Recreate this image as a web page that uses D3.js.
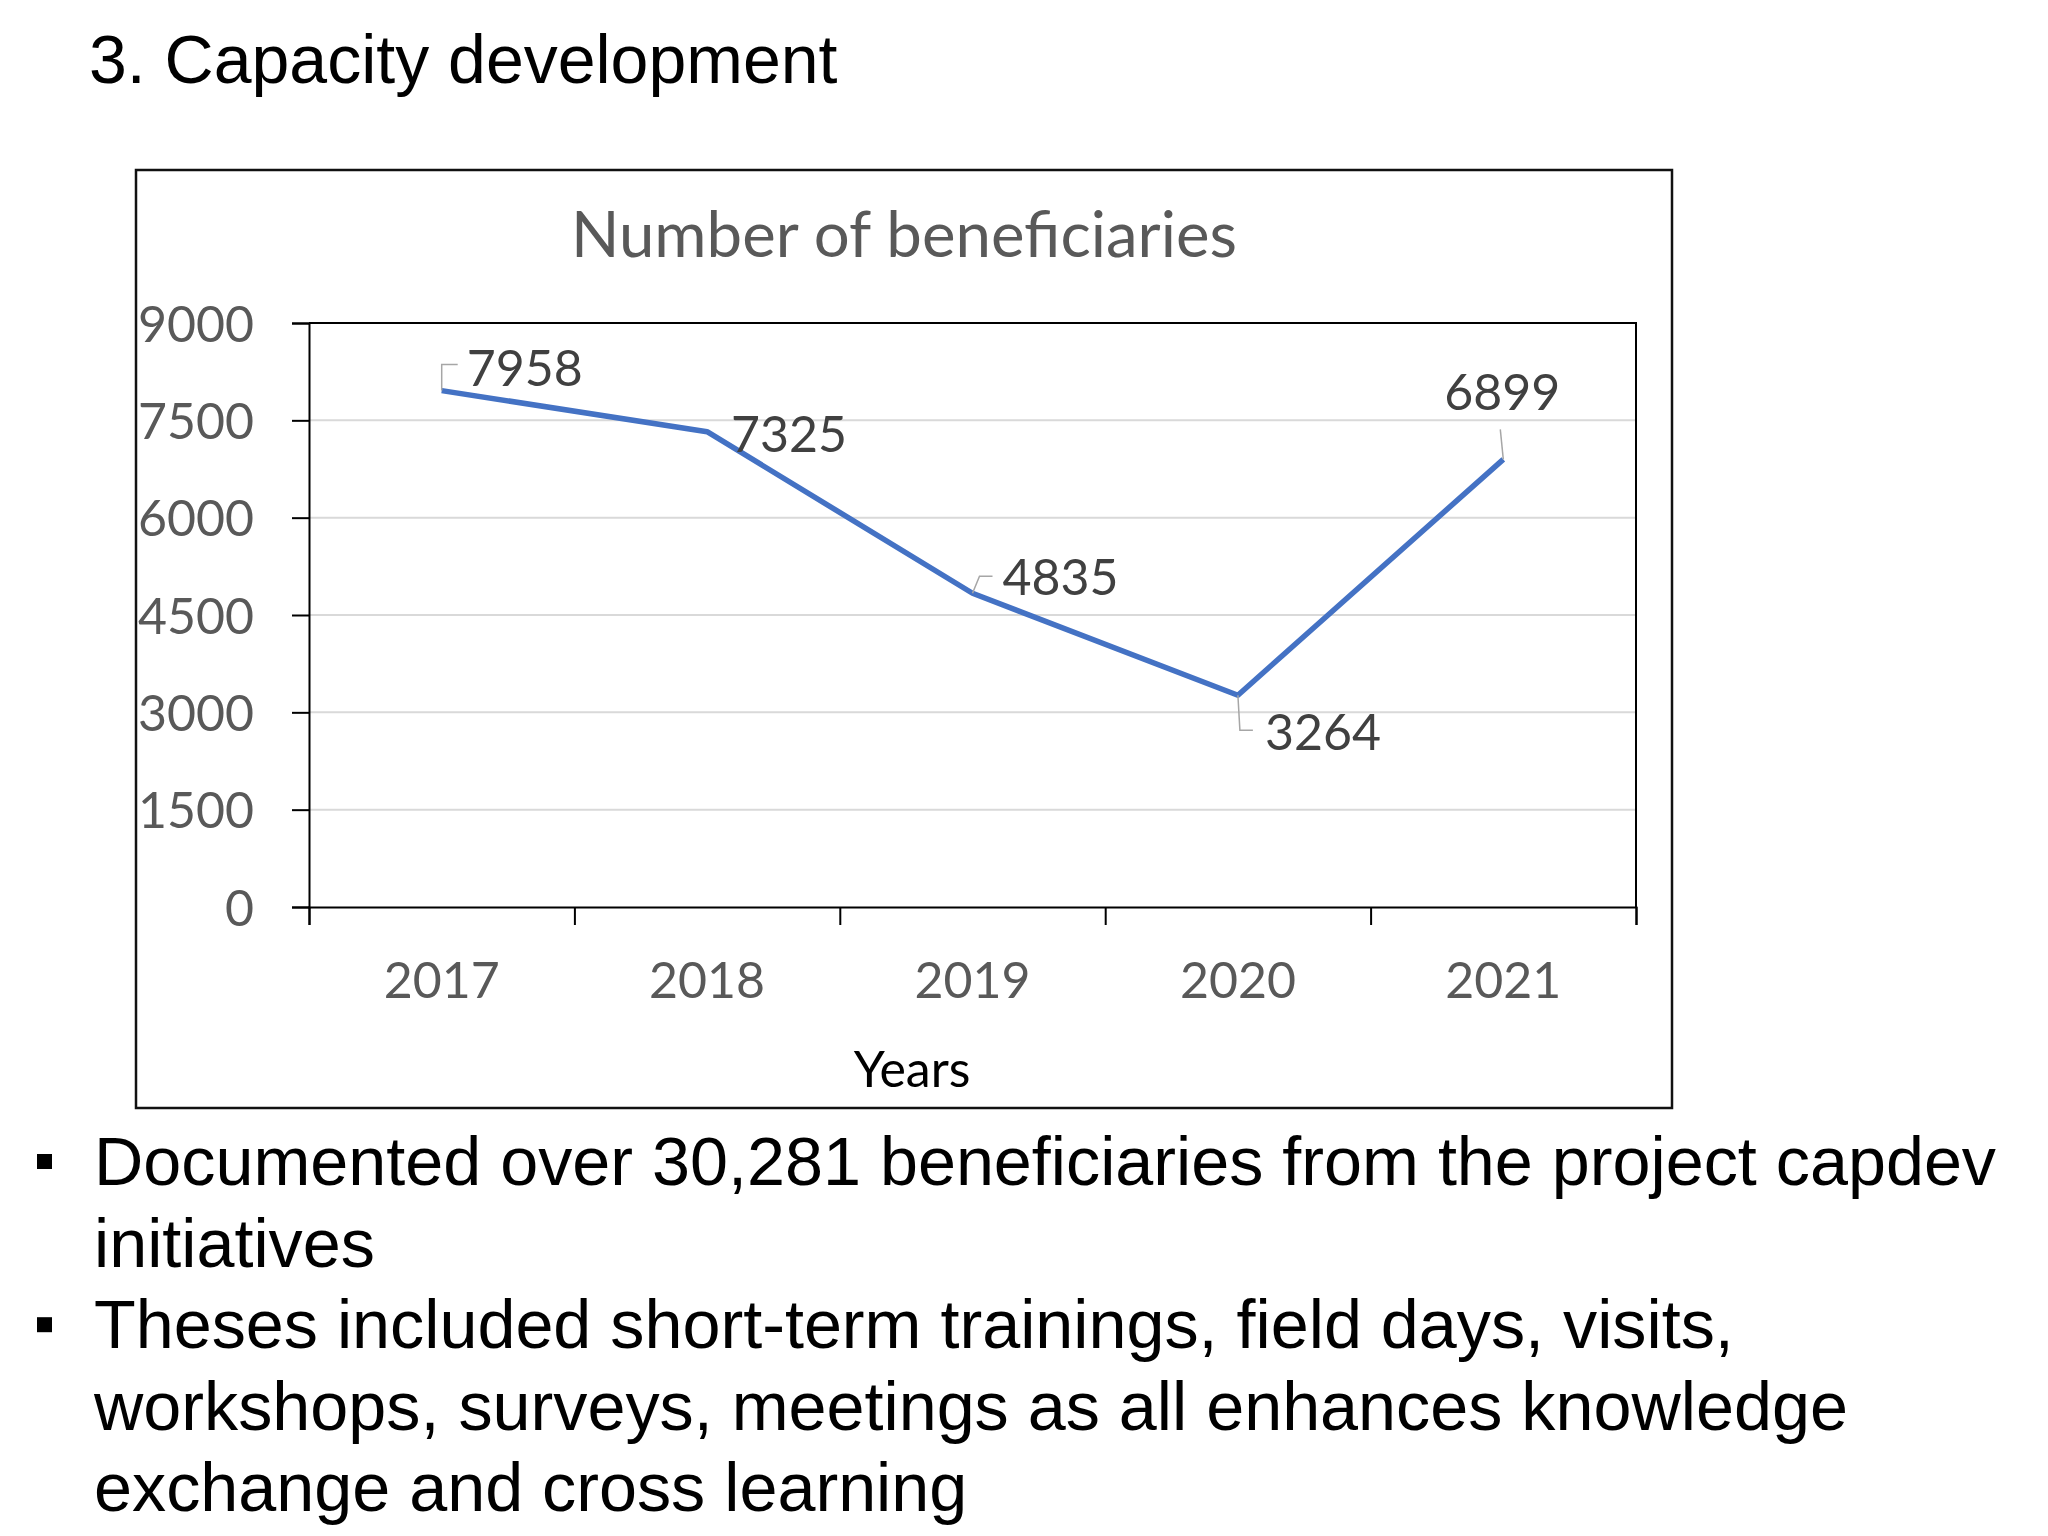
<!DOCTYPE html>
<html>
<head>
<meta charset="utf-8">
<script src="https://cdn.jsdelivr.net/npm/d3@7"></script>
<style>
  html, body { margin: 0; padding: 0; background: #ffffff; }
  svg { display: block; }
</style>
</head>
<body>
<svg id="chart" width="2048" height="1536"></svg>
<script>
// ---- data ----
const years = ["2017", "2018", "2019", "2020", "2021"];
const beneficiaries = [7958, 7325, 4835, 3264, 6899];
const yTicks = [0, 1500, 3000, 4500, 6000, 7500, 9000];
const pageTitle = "3. Capacity development";
const chartTitle = "Number of beneficiaries";
const xAxisTitle = "Years";
const bullets = [
  ["Documented over 30,281 beneficiaries from the project capdev", "initiatives"],
  ["Theses included short-term trainings, field days, visits,", "workshops, surveys, meetings as all enhances knowledge", "exchange and cross learning"]
];

// ---- layout ----
const svg = d3.select("#chart");
const chartFont = "Lato, 'Open Sans', sans-serif";
const slideFont = "'Liberation Sans', Arial, sans-serif";
const plot = { left: 309, right: 1636, top: 323, bottom: 907 };

// slide title
svg.append("text")
  .attr("x", 89).attr("y", 83)
  .attr("font-family", slideFont).attr("font-size", 68)
  .attr("fill", "#000")
  .text(pageTitle);

// chart frame
svg.append("rect")
  .attr("x", 136).attr("y", 170).attr("width", 1536).attr("height", 938)
  .attr("fill", "#fff").attr("stroke", "#111").attr("stroke-width", 2.5);

// chart title
svg.append("text")
  .attr("x", 904).attr("y", 257).attr("text-anchor", "middle")
  .attr("font-family", chartFont).attr("font-size", 63.5)
  .attr("fill", "#595959")
  .text(chartTitle);

// scales
const x = d3.scaleBand().domain(years).range([plot.left, plot.right]).padding(0);
const xEdge = d3.scaleLinear().domain([0, years.length]).range([plot.left, plot.right]);
const y = d3.scaleLinear().domain([0, 9000]).range([plot.bottom, plot.top]);

// gridlines
svg.append("g")
  .selectAll("line")
  .data(yTicks.filter(t => t > 0 && t < 9000))
  .join("line")
  .attr("x1", plot.left).attr("x2", plot.right)
  .attr("y1", d => y(d)).attr("y2", d => y(d))
  .attr("stroke", "#d9d9d9").attr("stroke-width", 2);

// plot border top & right
svg.append("path")
  .attr("d", `M${plot.left},${plot.top}H${plot.right}V${plot.bottom}`)
  .attr("fill", "none").attr("stroke", "#000").attr("stroke-width", 2);

// y axis
const yAxis = svg.append("g")
  .attr("transform", `translate(${plot.left},0)`)
  .call(d3.axisLeft(y).tickValues(yTicks).tickSize(17).tickPadding(38).tickFormat(d3.format("d")));
yAxis.select(".domain").attr("stroke", "#000").attr("stroke-width", 2);
yAxis.selectAll(".tick line").attr("stroke", "#000").attr("stroke-width", 2);
yAxis.selectAll(".tick text")
  .attr("font-family", chartFont).attr("font-size", 50)
  .attr("fill", "#595959").attr("dy", "0.36em");

// x axis: boundary ticks
const xTickAxis = svg.append("g")
  .attr("transform", `translate(0,${plot.bottom})`)
  .call(d3.axisBottom(xEdge).tickValues(d3.range(0, years.length + 1)).tickSize(18).tickFormat(""));
xTickAxis.select(".domain").attr("stroke", "#000").attr("stroke-width", 2);
xTickAxis.selectAll(".tick line").attr("stroke", "#000").attr("stroke-width", 2);

// x axis: category labels
const xAxis = svg.append("g")
  .attr("transform", `translate(0,${plot.bottom})`)
  .call(d3.axisBottom(x).tickSize(0).tickPadding(0));
xAxis.select(".domain").remove();
xAxis.selectAll(".tick text")
  .attr("font-family", chartFont).attr("font-size", 50)
  .attr("fill", "#595959").attr("y", 91).attr("dy", 0);

// x axis title
svg.append("text")
  .attr("x", 912).attr("y", 1087).attr("text-anchor", "middle")
  .attr("font-family", chartFont).attr("font-size", 50)
  .attr("fill", "#000")
  .text(xAxisTitle);

// line
const pts = years.map((yr, i) => ({ yr, v: beneficiaries[i], px: x(yr) + x.bandwidth() / 2, py: y(beneficiaries[i]) }));
svg.append("path")
  .datum(pts)
  .attr("d", d3.line().x(d => d.px).y(d => d.py))
  .attr("fill", "none").attr("stroke", "#4472C4").attr("stroke-width", 5.5)
  .attr("stroke-linejoin", "round");

// data labels (label offset + leader line path relative to point)
const labelLayout = [
  { dx: 25, dy: -5, leader: [[0, 0], [0, -26], [16, -26]] },
  { dx: 24, dy: 20, leader: null },
  { dx: 30, dy: 2, leader: [[0, 0], [7, -17], [20, -17]] },
  { dx: 27, dy: 55, leader: [[0, 0], [2, 35], [15, 35]] },
  { dx: -59, dy: -49, leader: [[0, 0], [-3, -30]] }
];
const lbl = svg.append("g");
pts.forEach((p, i) => {
  const L = labelLayout[i];
  if (L.leader) {
    lbl.append("path")
      .attr("d", d3.line()(L.leader.map(([a, b]) => [p.px + a, p.py + b])))
      .attr("fill", "none").attr("stroke", "#a6a6a6").attr("stroke-width", 1.5);
  }
  lbl.append("text")
    .attr("x", p.px + L.dx).attr("y", p.py + L.dy)
    .attr("font-family", chartFont).attr("font-size", 50)
    .attr("fill", "#404040")
    .text(p.v);
});

// bullets
let lineY = 1185;
const lineStep = 81.6;
bullets.forEach(b => {
  svg.append("rect")
    .attr("x", 37).attr("y", lineY - 31).attr("width", 15).attr("height", 15)
    .attr("fill", "#000");
  b.forEach(line => {
    svg.append("text")
      .attr("x", 94).attr("y", lineY)
      .attr("font-family", slideFont).attr("font-size", 68.3)
      .attr("fill", "#000")
      .text(line);
    lineY += lineStep;
  });
});
</script>
</body>
</html>
